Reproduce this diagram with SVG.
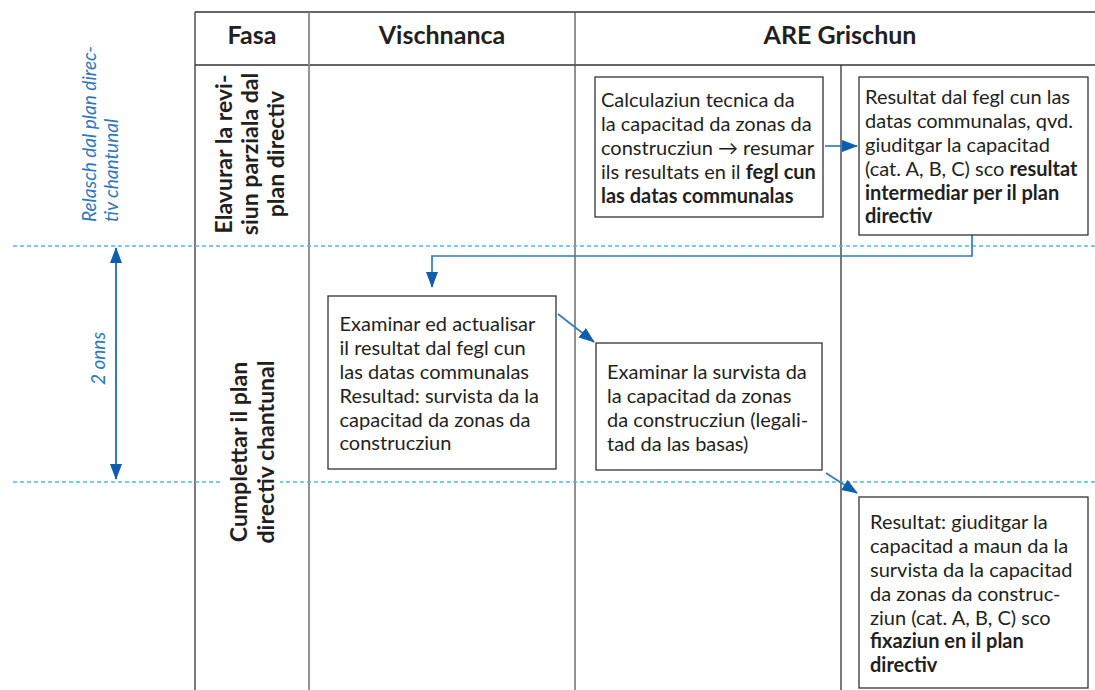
<svg xmlns="http://www.w3.org/2000/svg" width="1095" height="690" viewBox="0 0 1095 690">
<defs>
<marker id="ah" markerUnits="userSpaceOnUse" markerWidth="16" markerHeight="12" refX="15" refY="6" orient="auto-start-reverse"><path d="M0,0 L16,6 L0,12 z" fill="#0d5eae"/></marker>
</defs>
<style>
.t{font-family:Lato,'Liberation Sans',sans-serif;font-size:20px;fill:#231f20}
.b{font-weight:bold}
.h{font-family:Lato,'Liberation Sans',sans-serif;font-size:25px;font-weight:bold;fill:#231f20;text-anchor:middle}
.r{font-family:Lato,'Liberation Sans',sans-serif;font-size:23px;font-weight:bold;fill:#231f20;text-anchor:middle}
.it{font-family:Lato,'Liberation Sans',sans-serif;font-style:italic;font-size:19px;fill:#2a78c0}
.box{fill:#fff;stroke:#333;stroke-width:1.3}
.dash{stroke:#45bdf0;stroke-width:1.3;stroke-dasharray:4 3;fill:none}
.conn{stroke:#2f7cc0;stroke-width:1.7;fill:none}
.grid{stroke:#333;stroke-width:1.3;fill:none}
</style>
<rect x="0" y="0" width="1095" height="690" fill="#fff"/>
<g id="grid">
<line class="grid" x1="195" y1="12" x2="1095" y2="12"/>
<line class="grid" x1="195" y1="65" x2="1095" y2="65"/>
<line class="grid" x1="195" y1="12" x2="195" y2="690"/>
<line class="grid" x1="309" y1="12" x2="309" y2="690" style="stroke:#888;stroke-width:1.8"/>
<line class="grid" x1="575" y1="12" x2="575" y2="690" style="stroke:#555"/>
<line class="grid" x1="841" y1="65" x2="841" y2="690"/>
</g>
<g id="phase-lines">
<line class="dash" x1="13" y1="246" x2="1095" y2="246"/>
<line class="dash" x1="13" y1="482" x2="1095" y2="482"/>
</g>
<g id="headers">
<text class="h" x="252" y="44">Fasa</text>
<text class="h" x="442" y="44">Vischnanca</text>
<text class="h" x="840" y="44">ARE Grischun</text>
</g>
<g id="phase1">
<text class="r" transform="translate(232,154) rotate(-90)">Elavurar la revi-</text>
<text class="r" transform="translate(258,154) rotate(-90)">siun parziala dal</text>
<text class="r" transform="translate(284,154) rotate(-90)">plan directiv</text>
</g>
<g id="phase2">
<rect x="223" y="358" width="57" height="190" fill="#fff"/>
<text class="r" transform="translate(247,452) rotate(-90)">Cumplettar il plan</text>
<text class="r" transform="translate(274,452) rotate(-90)">directiv chantunal</text>
</g>
<g id="relasch">
<text class="it" transform="translate(96,222) rotate(-90)">Relasch dal plan direc-</text>
<text class="it" transform="translate(117.7,222) rotate(-90)">tiv chantunal</text>
</g>
<g id="duration">
<line class="conn" x1="116" y1="248" x2="116" y2="479" marker-start="url(#ah)" marker-end="url(#ah)" style="stroke-width:2"/>
<text class="it" text-anchor="middle" transform="translate(105,358.5) rotate(-90)">2 onns</text>
</g>
<g id="connectors">
<line class="conn" x1="825" y1="146" x2="857" y2="146" marker-end="url(#ah)"/>
<path class="conn" d="M972,235 V256 H432 V287" marker-end="url(#ah)"/>
<line class="conn" x1="558" y1="314" x2="594" y2="342" marker-end="url(#ah)"/>
<line class="conn" x1="826" y1="473" x2="857" y2="493" marker-end="url(#ah)"/>
</g>
<g id="boxA">
<rect class="box" x="595" y="77" width="228" height="140"/>
<text class="t" x="601" y="107">Calculaziun tecnica da</text>
<text class="t" x="601" y="131">la capacitad da zonas da</text>
<text class="t" x="601" y="155">construcziun → resumar</text>
<text class="t" x="601" y="179">ils resultats en il <tspan class="b">fegl cun</tspan></text>
<text class="t b" x="601" y="203">las datas communalas</text>
</g>
<g id="boxB">
<rect class="box" x="859" y="77" width="229" height="158"/>
<text class="t" x="865" y="104">Resultat dal fegl cun las</text>
<text class="t" x="865" y="128">datas communalas, qvd.</text>
<text class="t" x="865" y="152">giuditgar la capacitad</text>
<text class="t" x="865" y="176">(cat. A, B, C) sco <tspan class="b">resultat</tspan></text>
<text class="t b" x="865" y="200">intermediar per il plan</text>
<text class="t b" x="865" y="223">directiv</text>
</g>
<g id="boxC">
<rect class="box" x="328" y="296" width="228" height="173"/>
<text class="t" x="339.5" y="331">Examinar ed actualisar</text>
<text class="t" x="339.5" y="355">il resultat dal fegl cun</text>
<text class="t" x="339.5" y="379">las datas communalas</text>
<text class="t" x="339.5" y="403">Resultad: survista da la</text>
<text class="t" x="339.5" y="427">capacitad da zonas da</text>
<text class="t" x="339.5" y="450">construcziun</text>
</g>
<g id="boxD">
<rect class="box" x="596" y="343" width="226" height="127"/>
<text class="t" x="607" y="379">Examinar la survista da</text>
<text class="t" x="607" y="403">la capacitad da zonas</text>
<text class="t" x="607" y="427">da construcziun (legali-</text>
<text class="t" x="607" y="451">tad da las basas)</text>
</g>
<g id="boxE">
<rect class="box" x="859" y="497" width="229" height="191"/>
<text class="t" x="870" y="529">Resultat: giuditgar la</text>
<text class="t" x="870" y="553">capacitad a maun da la</text>
<text class="t" x="870" y="577">survista da la capacitad</text>
<text class="t" x="870" y="601">da zonas da construc-</text>
<text class="t" x="870" y="625">ziun (cat. A, B, C) sco</text>
<text class="t b" x="870" y="648">fixaziun en il plan</text>
<text class="t b" x="870" y="672">directiv</text>
</g>
</svg>
